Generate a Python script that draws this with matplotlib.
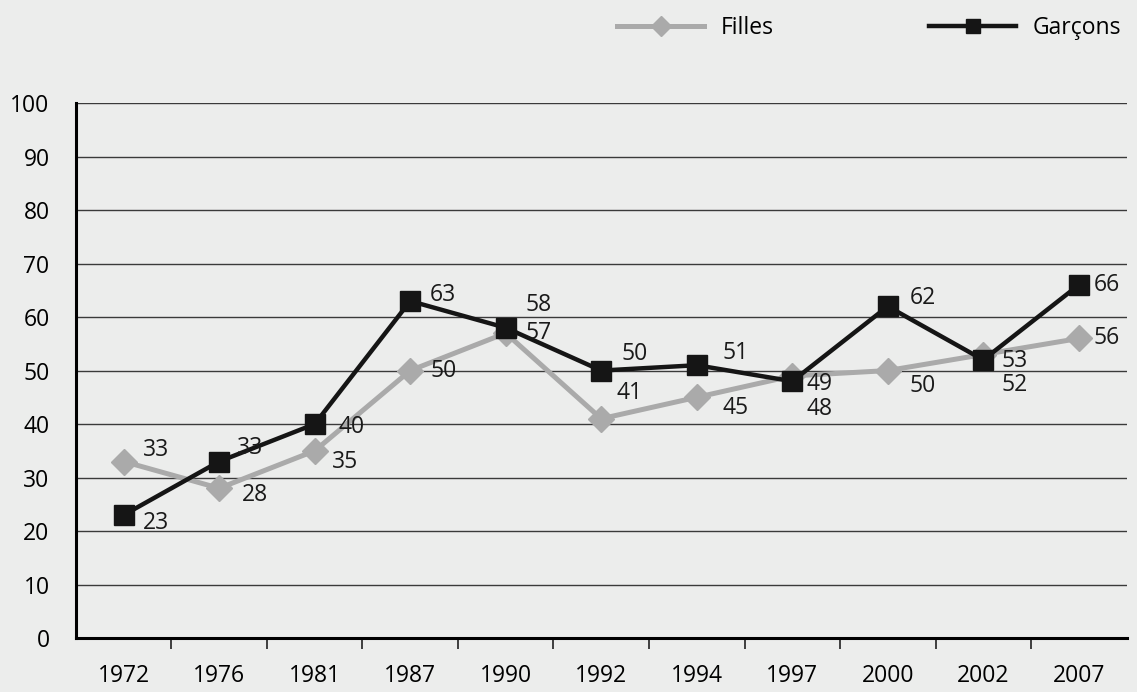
import numpy as np
import matplotlib.pyplot as plt
from matplotlib.ticker import FixedLocator

plt.rcParams['font.family'] = ['Open Sans', 'DejaVu Sans']

years = ['1972', '1976', '1981', '1987', '1990', '1992', '1994', '1997', '2000', '2002', '2007']
filles = [33, 28, 35, 50, 57, 41, 45, 49, 50, 53, 56]
garcons = [23, 33, 40, 63, 58, 50, 51, 48, 62, 52, 66]

# label offsets in pixels (dx, dy) relative to each marker
off_f = [(32, 12), (36, -7), (30, -11), (33, 0), (33, 0), (28, 26),
         (39, -11), (27, -8), (35, -15), (31, -6), (28, 0)]
off_g = [(32, -8), (31, 14), (37, -3), (33, 6), (33, 23), (33, 17),
         (39, 12), (27, -28), (35, 8), (31, -25), (28, 0)]

bg = '#ECEDEC'
fs = 16.5
fig = plt.figure(figsize=(11.37, 6.92), dpi=100, facecolor=bg)
ax = fig.add_axes([0.0668, 0.078, 0.924, 0.773], facecolor=bg)

x = np.arange(len(years))
ax.plot(x, filles, color='#AAAAAA', lw=3.6, marker='D', ms=13, label='Filles', zorder=3)
ax.plot(x, garcons, color='#151515', lw=3.2, marker='s', ms=14, label='Garçons', zorder=4)

for i in range(len(years)):
    ax.annotate(str(filles[i]), (x[i], filles[i]), xytext=off_f[i],
                textcoords='offset pixels', ha='center', va='center',
                fontsize=fs, color='#1a1a1a', zorder=5)
    ax.annotate(str(garcons[i]), (x[i], garcons[i]), xytext=off_g[i],
                textcoords='offset pixels', ha='center', va='center',
                fontsize=fs, color='#1a1a1a', zorder=5)

ax.set_xlim(-0.5, len(years) - 0.5)
ax.set_ylim(0, 100)
ax.set_yticks(np.arange(0, 101, 10))
for v in range(10, 101, 10):
    ax.axhline(v, color='#3a3a3a', lw=1.0, zorder=1)

ax.set_xticks(x)
ax.set_xticklabels(years)
ax.xaxis.set_minor_locator(FixedLocator(np.arange(0.5, len(years) - 0.5, 1)))
ax.tick_params(axis='x', which='major', length=0, pad=19, labelsize=fs)
ax.tick_params(axis='x', which='minor', length=8, width=1.2, color='#222')
ax.tick_params(axis='y', length=0, pad=19, labelsize=fs)

for s in ['top', 'right']:
    ax.spines[s].set_visible(False)
ax.spines['left'].set_linewidth(2.2)
ax.spines['bottom'].set_linewidth(2.2)

fig.legend(loc='upper right', bbox_to_anchor=(1.0, 1.0), ncol=2, frameon=False,
           fontsize=fs, handlelength=3.8, handletextpad=0.7, columnspacing=6.8,
           markerscale=0.75, borderaxespad=0.3)

fig.savefig('out.png', dpi=100, facecolor=bg)
